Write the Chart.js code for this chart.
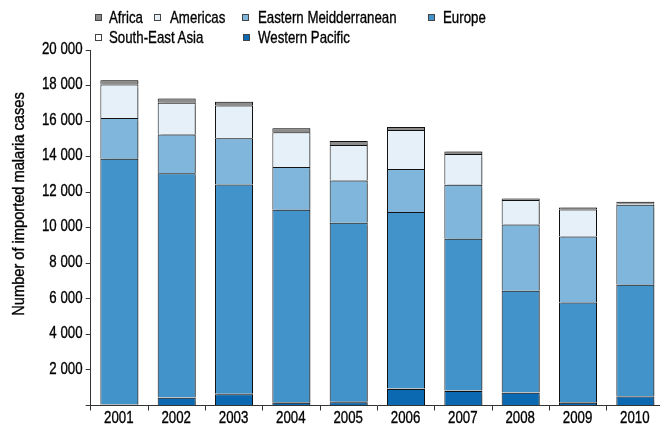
<!DOCTYPE html>
<html>
<head>
<meta charset="utf-8">
<script src="https://cdn.jsdelivr.net/npm/chart.js@4/dist/chart.umd.min.js"></script>
<style>
  html, body { margin: 0; padding: 0; background: #fff; overflow: hidden; }
  #wrap { position: relative; width: 660px; height: 428px; overflow: hidden; }
  #legend { position: absolute; left: 0; top: 0; width: 660px; height: 48px;
    font-family: 'Liberation Sans', Arial, sans-serif; font-size: 17px; color: #000; }
  .mark { position: absolute; width: 5px; height: 5px; border: 1px solid #444; }
  .txt { position: absolute; white-space: nowrap; line-height: 20px; transform: scaleX(0.78); transform-origin: 0 50%;
    -webkit-text-stroke: 0.35px #000; }
</style>
</head>
<body>
<div id="wrap">
  <canvas id="chart" width="664" height="428"></canvas>
  <div id="legend"></div>
</div>
<script>
const years = ['2001', '2002', '2003', '2004', '2005', '2006', '2007', '2008', '2009', '2010']

// cases by region of origin, bottom of the stack first
const westernPacific = [30, 440, 630, 160, 180, 930, 820, 720, 160, 500]
const southEastAsia = [30, 30, 30, 30, 30, 30, 30, 30, 30, 30]
const europe = [13815, 12590, 11780, 10824, 10072, 9925, 8534, 5700, 5604, 6263]
const easternMed = [2306, 2180, 2591, 2406, 2383, 2423, 3042, 3735, 3718, 4507]
const americas = [1875, 1786, 1843, 1950, 1995, 2197, 1730, 1375, 1521, 60]
const africa = [240, 240, 210, 225, 225, 170, 130, 90, 113, 100]

const yTicks = [0, 2000, 4000, 6000, 8000, 10000, 12000, 14000, 16000, 18000, 20000]

const fontFamily = "'Liberation Sans', Arial, sans-serif"
const narrow = 0.78

const series = [
    { label: 'Western Pacific', data: westernPacific, color: '#0a69b0' },
    { label: 'South-East Asia', data: southEastAsia, color: '#ffffff' },
    { label: 'Europe', data: europe, color: '#4393cb' },
    { label: 'Eastern Meidderranean', data: easternMed, color: '#80b6dc' },
    { label: 'Americas', data: americas, color: '#e6f0f8' },
    { label: 'Africa', data: africa, color: '#8c8c8c' }
]

// legend in two rows: [marker x, text x, row centre y]
const legendSpots = {
    'Africa': [95, 109, 17.5], 'Americas': [154, 170, 17.5],
    'Eastern Meidderranean': [242, 258, 17.5], 'Europe': [428, 443, 17.5],
    'South-East Asia': [95, 109, 37.5], 'Western Pacific': [243, 258, 37.5]
}
const legend = document.getElementById('legend')
series.forEach(s => {
    const [mx, tx, cy] = legendSpots[s.label]
    const mark = document.createElement('div')
    mark.className = 'mark'
    mark.style.left = mx + 'px'
    mark.style.top = (cy - 3.5) + 'px'
    mark.style.background = s.color
    legend.appendChild(mark)
    const txt = document.createElement('div')
    txt.className = 'txt'
    txt.style.left = tx + 'px'
    txt.style.top = (cy - 9.5) + 'px'
    txt.textContent = s.label
    legend.appendChild(txt)
})

const withSpaces = v => String(v).replace(/\B(?=(\d{3})+(?!\d))/g, ' ')

// thin grey drop shadow to the right of every bar
const barShadow = {
    id: 'barShadow',
    beforeDatasetsDraw(chart) {
        const ctx = chart.ctx
        ctx.save()
        ctx.shadowColor = 'rgba(0,0,0,0.28)'
        ctx.shadowOffsetX = 2
        ctx.shadowOffsetY = 0
        ctx.shadowBlur = 1
    },
    afterDatasetsDraw(chart) {
        chart.ctx.restore()
    }
}

// condensed axis lettering: draw tick labels and the title squeezed horizontally
function narrowText(ctx, text, x, y, align, angle, squeeze) {
    ctx.save()
    ctx.translate(x, y)
    if (angle) ctx.rotate(angle)
    ctx.scale(squeeze, 1)
    ctx.textAlign = align
    ctx.textBaseline = 'middle'
    ctx.fillText(text, 0, 0)
    ctx.strokeText(text, 0, 0)
    ctx.restore()
}

const axisText = {
    id: 'axisText',
    afterDraw(chart) {
        const ctx = chart.ctx
        const { x, y } = chart.scales
        ctx.save()
        ctx.fillStyle = '#000'
        ctx.strokeStyle = '#000'
        ctx.lineWidth = 0.35
        ctx.font = `17px ${fontFamily}`
        y.ticks.forEach(t => {
            if (t.value === 0) return
            narrowText(ctx, withSpaces(t.value), 82.5, y.getPixelForValue(t.value) - 1, 'right', 0, narrow)
        })
        x.ticks.forEach((t, i) => {
            narrowText(ctx, years[i], x.getPixelForTick(i) - 0.5, 418.5, 'center', 0, narrow)
        })
        narrowText(ctx, 'Number of imported malaria cases', 19, 204, 'center', -Math.PI / 2, 0.86)
        ctx.restore()
    }
}

new Chart('chart', {
    type: 'bar',
    data: {
        labels: years,
        datasets: series.map(s => ({
            label: s.label,
            data: s.data,
            backgroundColor: s.color,
            borderColor: '#111',
            borderWidth: 1,
            barPercentage: 0.663,
            categoryPercentage: 1
        }))
    },
    options: {
        responsive: false,
        animation: false,
        layout: { padding: { top: 50, right: 0, left: 0, bottom: 0 } },
        plugins: { legend: { display: false }, tooltip: { enabled: false } },
        scales: {
            x: {
                stacked: true,
                grid: { offset: true, drawOnChartArea: false, tickLength: 5, color: '#333' },
                border: { color: '#333', width: 1 },
                ticks: { color: 'rgba(0,0,0,0)', padding: 1, font: { family: fontFamily, size: 17 } },
                afterFit(scale) { scale.height = 22.5 }
            },
            y: {
                stacked: true,
                min: 0,
                max: 20000,
                afterBuildTicks(scale) { scale.ticks = yTicks.map(v => ({ value: v })) },
                grid: { drawOnChartArea: false, tickLength: 5, color: '#333' },
                border: { color: '#333', width: 1 },
                ticks: { color: 'rgba(0,0,0,0)', font: { family: fontFamily, size: 17 } },
                afterFit(scale) { scale.width = 90.7 }
            }
        }
    },
    plugins: [barShadow, axisText]
})
</script>
</body>
</html>
